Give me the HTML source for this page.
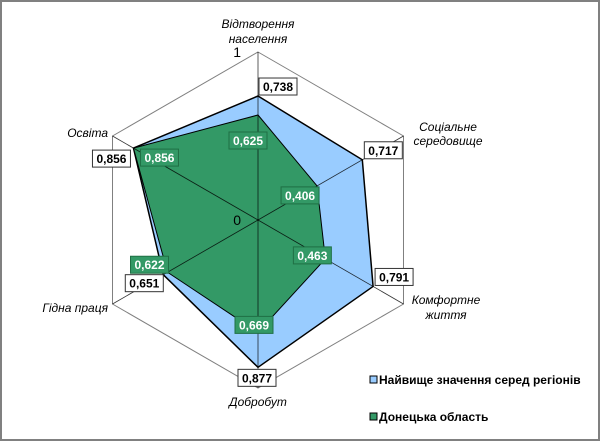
<!DOCTYPE html>
<html><head><meta charset="utf-8"><style>
body{margin:0;background:#fff}
#c{position:relative;width:600px;height:441px;overflow:hidden}
svg text{font-family:"Liberation Sans",Arial,sans-serif}
</style></head><body>
<div id="c">
<svg id="s" width="600" height="441" xmlns="http://www.w3.org/2000/svg">
<rect x="1" y="1" width="598" height="439" fill="#fff" stroke="#808080" stroke-width="2"/>
</svg>
</div>
<script>
const categories=["Відтворення населення","Соціальне середовище","Комфортне життя","Добробут","Гідна праця","Освіта"];
const highestValues=[0.738,0.717,0.791,0.877,0.651,0.856];
const donetskValues=[0.625,0.406,0.463,0.669,0.622,0.856];
const highestLabels=["0,738","0,717","0,791","0,877","0,651","0,856"];
const donetskLabels=["0,625","0,406","0,463","0,669","0,622","0,856"];
const axisTickLabels=["0","1"];

const NS="http://www.w3.org/2000/svg";
const svg=document.getElementById('s');
const cx=258,cy=220,R=168;
function pt(i,v){const a=i*Math.PI/3;return [cx+R*v*Math.sin(a),cy-R*v*Math.cos(a)];}
function mk(tag,attrs,parent){const e=document.createElementNS(NS,tag);for(const k in attrs)e.setAttribute(k,attrs[k]);(parent||svg).appendChild(e);return e;}

// grid hexagon
const hex=mk('polygon',{points:categories.map((c,i)=>pt(i,1).join(',')).join(' '),fill:'none',stroke:'#808080','stroke-width':1});


// series
const s1=mk('polygon',{points:highestValues.map((v,i)=>pt(i,v).join(',')).join(' '),fill:'#99ccff',stroke:'#000','stroke-width':1.5});


const s2=mk('polygon',{points:donetskValues.map((v,i)=>pt(i,v).join(',')).join(' '),fill:'#339966',stroke:'#000','stroke-width':1});


// spokes
categories.forEach((c,i)=>{const p=pt(i,1);const l=mk('line',{x1:cx,y1:cy,x2:p[0],y2:p[1],stroke:'#000','stroke-width':0.8,'stroke-opacity':0.8});

});
// tick labels
const t0=mk('text',{x:241,y:225,'font-size':14,'text-anchor':'end'});t0.textContent=axisTickLabels[0];


const t1=mk('text',{x:241,y:57,'font-size':14,'text-anchor':'end'});t1.textContent=axisTickLabels[1];


// category labels
const catPos=[[258,[28,43],'middle'],[448,[131,145],'middle'],[446,[304,319],'middle'],[258,[406],'middle'],[108,[312],'end'],[108,[137],'end']];
const catLines=[["Відтворення","населення"],["Соціальне","середовище"],["Комфортне","життя"],["Добробут"],["Гідна праця"],["Освіта"]];
categories.forEach((c,i)=>{const [x,ys,anc]=catPos[i];const t=mk('text',{x:x,'font-size':12,'font-style':'italic','text-anchor':anc});


catLines[i].forEach((ln,j)=>{const ts=mk('tspan',{x:x,y:ys[j]},t);ts.textContent=ln;});});
// data labels: offsets relative to point (box left, top)
const hOff=[[1,-18],[2,-18],[2,-18],[-20,2],[-38,0],[-41,2]];
const dOff=[[-29,17],[-36,1],[-32,-12],[-23,-16],[-37,-16],[7,1]];
function label(i,v,txt,off,green,name){const p=pt(i,v);const x=p[0]+off[0],y=p[1]+off[1];const w=38,h=17;
const g=mk('g',{});


mk('rect',{x:x,y:y,width:w,height:h,fill:green?'#339966':'#fff',stroke:green?'#1f6f44':'#333','stroke-width':1},g);
const t=mk('text',{x:x+w/2,y:y+13,'font-size':12,'font-weight':'bold','text-anchor':'middle',fill:green?'#fff':'#000'},g);t.textContent=txt;}
highestValues.forEach((v,i)=>label(i,v,highestLabels[i],hOff[i],false,'highest-value-label'));
donetskValues.forEach((v,i)=>label(i,v,donetskLabels[i],dOff[i],true,'donetsk-value-label'));
// legend
const legend=[["Найвище значення серед регіонів","#99ccff",381],["Донецька область","#339966",418]];
legend.forEach(([txt,col,y],k)=>{const g=mk('g',{});


mk('rect',{x:370,y:y-5,width:7,height:7,fill:col,stroke:'#000','stroke-width':1},g);
const t=mk('text',{x:379,y:y+3,'font-size':12,'font-weight':'bold'},g);t.textContent=txt;});
</script>
</body></html>
